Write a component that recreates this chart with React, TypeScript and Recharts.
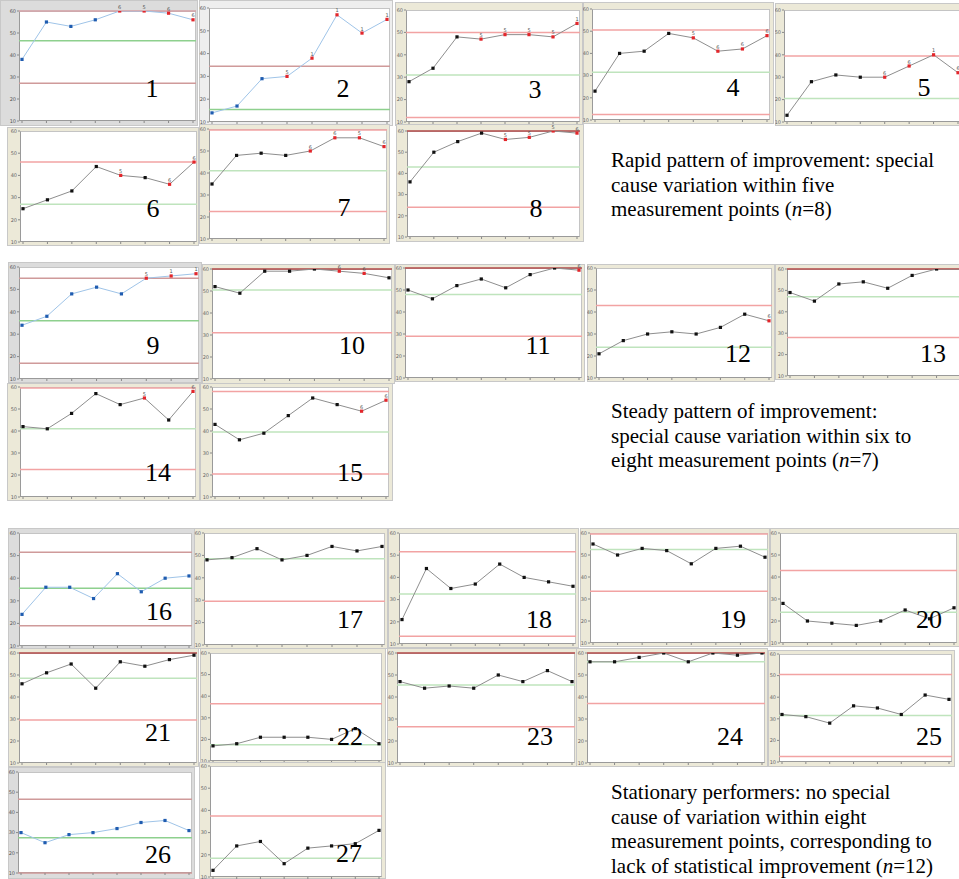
import React from 'react';
import { LineChart, Line, XAxis, YAxis, ReferenceLine, LabelList } from 'recharts';

// ---------- data ----------
const pointIndex = [0, 1, 2, 3, 4, 5, 6, 7];
const yTicks = [10, 20, 30, 40, 50, 60];
const panelNames = ['1','2','3','4','5','6','7','8','9','10','11','12','13','14','15','16','17','18','19','20','21','22','23','24','25','26','27'];

const values1 = [38, 55, 53, 56, 60, 60, 59, 56];
const signals1 = ['', '', '', '', '6', '5', '6', '6'];
const limits1 = [60, 46.5, 27.2];

const values2 = [14, 17, 29, 30, 38, 57, 49, 55];
const signals2 = ['', '', '', '5', '1', '1', '1', '1'];
const limits2 = [34.5, 15.5, null];

const values3 = [28, 34, 48, 47, 49, 49, 48, 54];
const signals3 = ['', '', '', '5', '5', '5', '5', '1'];
const limits3 = [50, 31, 12];

const values4 = [23, 40, 41, 49, 47, 41, 42, 48];
const signals4 = ['', '', '', '', '5', '6', '6', '6'];
const limits4 = [50.5, 31.5, 12.5];

const values5 = [13, 28, 31, 30, 30, 35, 40, 32];
const signals5 = ['', '', '', '', '6', '6', '1', '6'];
const limits5 = [39.5, 20.5, null];

const values6 = [25, 29, 33, 44, 40, 39, 36, 46];
const signals6 = ['', '', '', '', '5', '', '6', '6'];
const limits6 = [46, 27, null];

const values7 = [35, 48, 49, 48, 50, 56, 56, 52];
const signals7 = ['', '', '', '', '6', '6', '5', '6'];
const limits7 = [59.5, 41, 22.5];

const values8 = [36, 50, 55, 59, 56, 57, 60, 59];
const signals8 = ['', '', '', '', '5', '5', '5', '6'];
const limits8 = [60, 43, 24];

const values9 = [34, 38, 48, 51, 48, 55, 56, 57];
const signals9 = ['', '', '', '', '', '5', '1', '1'];
const limits9 = [55, 36, 17];

const values10 = [52, 49, 59, 59, 60, 59, 58, 56];
const signals10 = ['', '', '', '', '', '6', '6', ''];
const limits10 = [60, 50.5, 31];

const values11 = [50, 46, 52, 55, 51, 57, 60, 59];
const signals11 = ['', '', '', '', '', '', '', '6'];
const limits11 = [60, 48, 29];

const values12 = [21, 27, 30, 31, 30, 33, 39, 36];
const signals12 = ['', '', '', '', '', '', '', '6'];
const limits12 = [43, 24, null];

const values13 = [49, 45, 53, 54, 51, 57, 60, 60];
const signals13 = ['', '', '', '', '', '', '', ''];
const limits13 = [60, 47, 28];

const values14 = [42, 41, 48, 57, 52, 55, 45, 58];
const signals14 = ['', '', '', '', '', '5', '', '6'];
const limits14 = [59.5, 41, 22.5];

const values15 = [43, 36, 39, 47, 55, 52, 49, 54];
const signals15 = ['', '', '', '', '', '', '6', '6'];
const limits15 = [58, 39.5, 20.5];

const values16 = [24, 36, 36, 31, 42, 34, 40, 41];
const signals16 = ['', '', '', '', '', '', '', ''];
const limits16 = [51.5, 35.5, 19];

const values17 = [48, 49, 53, 48, 50, 54, 52, 54];
const signals17 = ['', '', '', '', '', '', '', ''];
const limits17 = [null, 48.5, 29.5];

const values18 = [21, 44, 35, 37, 46, 40, 38, 36];
const signals18 = ['', '', '', '', '', '', '', ''];
const limits18 = [51.5, 32.5, 13.5];

const values19 = [55, 50, 53, 52, 46, 53, 54, 49];
const signals19 = ['', '', '', '', '', '', '', ''];
const limits19 = [59.5, 52.5, 33.5];

const values20 = [28, 20, 19, 18, 20, 25, 21, 26];
const signals20 = ['', '', '', '', '', '', '', ''];
const limits20 = [43, 24, null];

const values21 = [46, 51, 55, 44, 56, 54, 57, 59];
const signals21 = ['', '', '', '', '', '', '', ''];
const limits21 = [60, 48.5, 29.5];

const values22 = [17, 18, 21, 21, 21, 20, 25, 18];
const signals22 = ['', '', '', '', '', '', '', ''];
const limits22 = [36.5, 17.5, null];

const values23 = [47, 44, 45, 44, 50, 47, 52, 47];
const signals23 = ['', '', '', '', '', '', '', ''];
const limits23 = [60, 45.5, 26.5];

const values24 = [56, 56, 58, 60, 56, 60, 59, 60];
const signals24 = ['', '', '', '', '', '', '', ''];
const limits24 = [60, 56, 37];

const values25 = [32, 31, 28, 36, 35, 32, 41, 39];
const signals25 = ['', '', '', '', '', '', '', ''];
const limits25 = [50.5, 31.5, 12.5];

const values26 = [30, 25, 29, 30, 32, 35, 36, 31];
const signals26 = ['', '', '', '', '', '', '', ''];
const limits26 = [46.5, 27.5, 10];

const values27 = [13, 24, 26, 16, 23, 24, 25, 31];
const signals27 = ['', '', '', '', '', '', '', ''];
const limits27 = [37.5, 18.5, null];

const allValues = [values1, values2, values3, values4, values5, values6, values7, values8, values9, values10, values11, values12, values13, values14, values15, values16, values17, values18, values19, values20, values21, values22, values23, values24, values25, values26, values27];
const allSignals = [signals1, signals2, signals3, signals4, signals5, signals6, signals7, signals8, signals9, signals10, signals11, signals12, signals13, signals14, signals15, signals16, signals17, signals18, signals19, signals20, signals21, signals22, signals23, signals24, signals25, signals26, signals27];
const allLimits = [limits1, limits2, limits3, limits4, limits5, limits6, limits7, limits8, limits9, limits10, limits11, limits12, limits13, limits14, limits15, limits16, limits17, limits18, limits19, limits20, limits21, limits22, limits23, limits24, limits25, limits26, limits27];

// ---------- layout (positions / styles) ----------
const frameBoxes = [
  [0, 0, 198, 126], [199, 0, 194, 126], [395, 2, 188, 124], [583, 2, 191, 122], [775, 3, 190, 123],
  [7, 127, 192, 119], [199, 124, 191, 120], [396, 124, 188, 118],
  [8, 262, 194, 121], [202, 264, 193, 120], [395, 264, 190, 118], [587, 264, 188, 118], [775, 264, 192, 116],
  [7, 383, 193, 118], [200, 383, 193, 118],
  [8, 528, 187, 121], [194, 528, 194, 121], [388, 528, 191, 120], [580, 528, 190, 119], [770, 528, 190, 119],
  [8, 648, 191, 119], [200, 648, 186, 118], [387, 648, 190, 119], [576, 648, 192, 119], [768, 650, 187, 117],
  [8, 767, 187, 112], [199, 762, 187, 117],
];
const plotBoxes = [
  [19, 11, 196, 121], [209, 8, 390, 122], [406, 10, 580, 122], [592, 9, 770, 120], [784, 10, 961, 122],
  [20, 131, 197, 242], [209, 129, 387, 239], [407, 131, 580, 237],
  [19, 267, 199, 379], [212, 269, 392, 379], [405, 268, 582, 378], [596, 268, 772, 378], [787, 269, 964, 376],
  [20, 387, 196, 497], [212, 387, 389, 497],
  [19, 533, 192, 646], [204, 533, 385, 645], [399, 533, 576, 644], [590, 533, 768, 643], [780, 533, 957, 643],
  [19, 653, 197, 763], [210, 653, 382, 761], [397, 653, 575, 763], [587, 653, 765, 763], [779, 654, 952, 762],
  [18, 772, 192, 873], [210, 766, 382, 877],
];
const numberSpots = [
  [152, 89], [343, 89], [535, 90], [733, 88], [924, 88],
  [153, 209], [344, 208], [536, 209],
  [153, 346], [352, 346], [538, 346], [738, 354], [933, 354],
  [158, 473], [350, 473],
  [159, 612], [350, 620], [539, 620], [733, 620], [929, 620],
  [158, 733], [350, 737], [540, 737], [730, 737], [929, 737],
  [158, 855], [349, 854],
];
const bluePanels = [0, 1, 8, 15, 25];

const RED = '#e3262b';
const themeBlue = { frame: '#dcdcdc', line: '#9fc4e8', dot: '#1f5cb0', limit: '#cf9a9a', center: '#8ed08e', topLimit: '#d4a0a6', tick: '#555' };
const themeBlack = { frame: '#ece9d8', line: '#8e8e8e', dot: '#111111', limit: '#f2a3a3', center: '#bfe4bd', topLimit: '#b24848', tick: '#666' };

const serif = "'Liberation Serif', 'Times New Roman', serif";

const renderSignal = (props: any) => {
  const { x, y, width, value, index } = props;
  if (!value) return <g key={index} />;
  return (
    <text key={index} x={x + (width || 0) / 2} y={y - 2.5} textAnchor="middle" fontSize={5} fill="#555" fontFamily="DejaVu Sans">
      {value}
    </text>
  );
};

function Panel({ idx }: { idx: number }) {
  const [fx, fy, fw, fh] = frameBoxes[idx];
  const [pl, pt, pr, pb] = plotBoxes[idx];
  const theme = bluePanels.includes(idx) ? themeBlue : themeBlack;
  const values = allValues[idx];
  const signals = allSignals[idx];
  const [ucl, cl, lcl] = allLimits[idx];
  const data = pointIndex.map((i) => ({ i, v: values[i], s: signals[i] }));
  const [nx, ny] = numberSpots[idx];

  const renderDot = (props: any) => {
    const { cx, cy, payload, index } = props;
    if (cx == null || cy == null) return <g key={index} />;
    return (
      <rect key={index} x={cx - 1.6} y={cy - 1.6} width={3.2} height={3.2} fill={payload.s ? RED : theme.dot} />
    );
  };

  return (
    <>
      <div style={{ position: 'absolute', left: fx, top: fy, width: fw, height: fh, background: idx === 1 ? '#eeeeee' : theme.frame, boxSizing: 'border-box', border: '1px solid #c8c8c8' }} />
      <div style={{ position: 'absolute', left: pl, top: pt, width: pr - pl, height: pb - pt, background: '#fff', boxSizing: 'border-box', borderLeft: '1px solid #9a9a9a', borderBottom: '1px solid #9a9a9a', borderTop: '1px solid #c4c4c4', borderRight: '1px solid #c4c4c4' }} />
      <div style={{ position: 'absolute', left: fx, top: fy }}>
        <LineChart
          width={fw}
          height={fh}
          data={data}
          margin={{ top: pt - fy, right: fx + fw - pr, left: 0, bottom: 0 }}
        >
          <XAxis
            dataKey="i"
            type="number"
            domain={[0, 7]}
            ticks={pointIndex}
            interval={0}
            height={fy + fh - pb}
            padding={{ left: 3, right: 3 }}
            axisLine={false}
            tickSize={2}
            tickLine={{ stroke: '#888' }}
            tickFormatter={() => ''}
          />
          <YAxis
            type="number"
            domain={[10, 60]}
            ticks={yTicks}
            interval={0}
            width={pl - fx}
            axisLine={false}
            tickSize={2}
            tickMargin={1}
            tickLine={{ stroke: '#888' }}
            tick={{ fontSize: 5, fill: theme.tick, fontFamily: 'DejaVu Sans' }}
            allowDataOverflow
          />
          {ucl != null && (
            <ReferenceLine y={ucl} stroke={ucl >= 60 ? theme.topLimit : theme.limit} strokeWidth={1.5} />
          )}
          {cl != null && <ReferenceLine y={cl} stroke={theme.center} strokeWidth={1.5} />}
          {lcl != null && <ReferenceLine y={lcl} stroke={theme.limit} strokeWidth={1.5} />}
          <Line
            dataKey="v"
            type="linear"
            stroke={theme.line}
            strokeWidth={1}
            dot={renderDot}
            activeDot={false}
            isAnimationActive={false}
          >
            <LabelList dataKey="s" content={renderSignal} />
          </Line>
        </LineChart>
      </div>
      <div
        style={{
          position: 'absolute',
          left: nx,
          top: ny,
          transform: 'translate(-50%, -50%)',
          fontFamily: serif,
          fontSize: 26,
          lineHeight: 1,
          color: '#000',
          whiteSpace: 'nowrap',
        }}
      >
        {panelNames[idx]}
      </div>
    </>
  );
}

const textStyle: React.CSSProperties = {
  position: 'absolute',
  left: 611,
  fontFamily: serif,
  fontSize: 21,
  lineHeight: '24.5px',
  color: '#000',
  whiteSpace: 'nowrap',
};

export default function App() {
  return (
    <div style={{ position: 'absolute', left: 0, top: 0, width: 959, height: 879, overflow: 'hidden', background: '#fff' }}>
      {panelNames.map((_, idx) => (
        <Panel key={idx} idx={idx} />
      ))}
      <div style={{ ...textStyle, top: 148 }}>
        Rapid pattern of improvement: special<br />
        cause variation within five<br />
        measurement points (<i>n</i>=8)
      </div>
      <div style={{ ...textStyle, top: 399 }}>
        Steady pattern of improvement:<br />
        special cause variation within six to<br />
        eight measurement points (<i>n</i>=7)
      </div>
      <div style={{ ...textStyle, top: 780 }}>
        Stationary performers: no special<br />
        cause of variation within eight<br />
        measurement points, corresponding to<br />
        lack of statistical improvement (<i>n</i>=12)
      </div>
    </div>
  );
}
